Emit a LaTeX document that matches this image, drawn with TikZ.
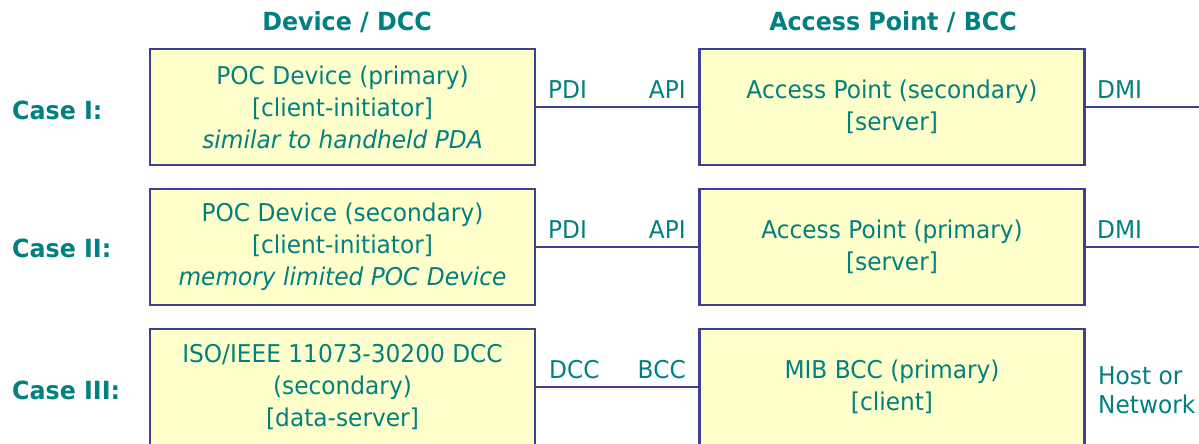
\documentclass[tikz,border=0pt]{standalone}
\usepackage{fontspec}
\setmainfont{DejaVu Sans}[FakeStretch=0.95]
\definecolor{tealtxt}{RGB}{0,128,128}
\definecolor{boxfill}{RGB}{255,255,204}
\definecolor{boxline}{RGB}{64,64,144}
\begin{document}
\begin{tikzpicture}[x=1pt,y=-1pt,
  every node/.style={text=tealtxt, font=\fontsize{24.5}{32}\selectfont, inner sep=0pt},
  box/.style={draw=boxline, fill=boxfill, line width=2.2pt, minimum width=385pt, minimum height=116pt, align=center},
  hdr/.style={font=\fontsize{25}{30}\selectfont\bfseries},
  lbl/.style={font=\fontsize{24.5}{29}\selectfont},
  link/.style={draw=boxline, line width=2.2pt}]
\useasboundingbox (0,0) rectangle (1199,444);
\clip (0,0) rectangle (1199,444);

% headers
\node[hdr] (hdev) at (347,22) {Device / DCC};
\node[hdr] (hap) at (893,22) {Access Point / BCC};

% case labels
\node[hdr, anchor=west] (c1) at (12,110) {Case I:};
\node[hdr, anchor=west] (c2) at (12,248) {Case II:};
\node[hdr, anchor=west] (c3) at (12,390) {Case III:};

% coordinates for free ends
\coordinate (e1) at (1199,107);
\coordinate (e2) at (1199,247);

% boxes
\node[box] (L1) at (342.5,107) {POC Device (primary)\\{}[client-initiator]\\\textit{similar to handheld PDA}};
\node[box] (R1) at (892,107) {Access Point (secondary)\\{}[server]};
\node[box] (L2) at (342.5,247) {POC Device (secondary)\\{}[client-initiator]\\\textit{memory limited POC Device}};
\node[box] (R2) at (892,247) {Access Point (primary)\\{}[server]};
\node[box] (L3) at (342.5,387) {ISO/IEEE 11073-30200 DCC\\(secondary)\\{}[data-server]};
\node[box] (R3) at (892,387) {MIB BCC (primary)\\{}[client]};

% connectors
\draw[link] (L1.east) -- (R1.west);
\draw[link] (R1.east) -- (e1);
\draw[link] (L2.east) -- (R2.west);
\draw[link] (R2.east) -- (e2);
\draw[link] (L3.east) -- (R3.west);

% interface labels
\node[anchor=base west] (pdi1) at (548,98) {PDI};
\node[anchor=base east] (api1) at (686,98) {API};
\node[anchor=base west] (dmi1) at (1097,98) {DMI};
\node[anchor=base west] (pdi2) at (548,238) {PDI};
\node[anchor=base east] (api2) at (686,238) {API};
\node[anchor=base west] (dmi2) at (1097,238) {DMI};
\node[anchor=base west] (dcc3) at (549,378) {DCC};
\node[anchor=base east] (bcc3) at (686,378) {BCC};
\node[lbl, anchor=west, align=left] (host) at (1098,390.5) {Host or\\Network};
\end{tikzpicture}
\end{document}
